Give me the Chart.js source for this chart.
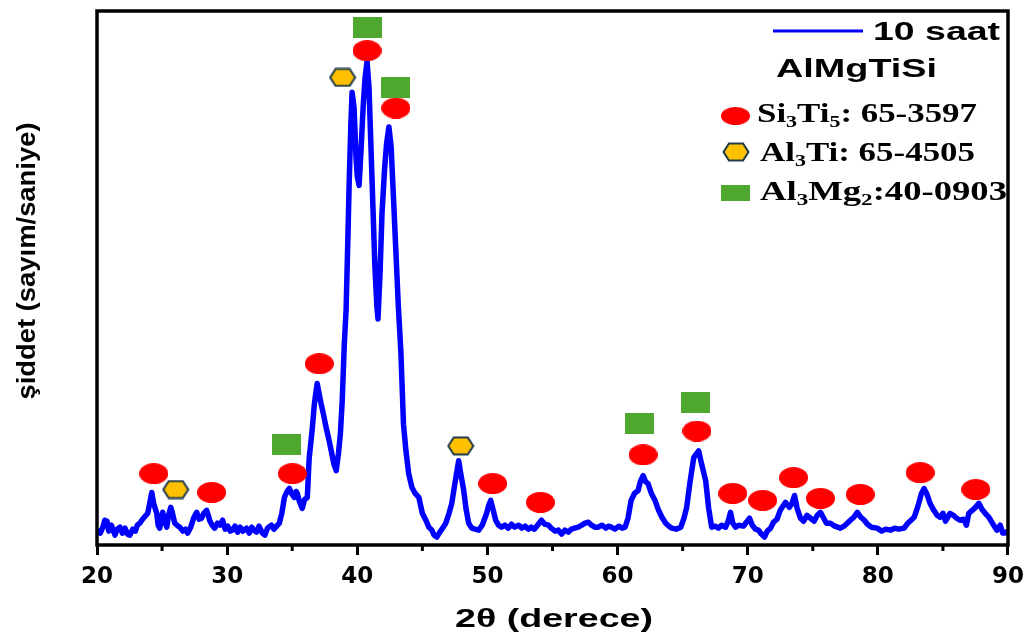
<!DOCTYPE html>
<html>
<head>
<meta charset="utf-8">
<script src="https://cdn.jsdelivr.net/npm/chart.js"></script>
<style>
body { margin: 0; background: #fff; }
</style>
</head>
<body>
<canvas id="xrd" width="1032" height="638"></canvas>
<script>
// 2theta (deg) and intensity (arbitrary counts)
const twoTheta = [
  20.00, 20.25, 20.45, 20.60, 20.77, 20.90, 21.10, 21.38, 21.55, 21.76, 21.95, 22.15, 22.35, 22.53, 22.75, 22.95,
  23.10, 23.29, 23.50, 23.70, 23.90, 24.05, 24.21, 24.35, 24.59, 24.70, 24.82, 24.95, 25.05, 25.20, 25.36, 25.50,
  25.67, 25.80, 25.97, 26.15, 26.36, 26.60, 26.80, 26.97, 27.20, 27.45, 27.66, 27.85, 28.04, 28.20, 28.42, 28.55,
  28.65, 28.85, 29.04, 29.25, 29.45, 29.65, 29.85, 30.05, 30.25, 30.41, 30.60, 30.80, 31.00, 31.20, 31.49, 31.70,
  31.90, 32.05, 32.25, 32.45, 32.71, 32.90, 33.10, 33.40, 33.60, 33.80, 34.01, 34.20, 34.40, 34.60, 34.78, 34.95,
  35.16, 35.30, 35.39, 35.55, 35.77, 35.95, 36.16, 36.30, 36.54, 36.70, 36.80, 36.92, 37.05, 37.23, 37.40, 37.60,
  37.84, 38.00, 38.20, 38.38, 38.55, 38.70, 38.84, 39.00, 39.14, 39.30, 39.37, 39.50, 39.60, 39.75, 39.90, 40.00,
  40.14, 40.30, 40.45, 40.60, 40.75, 40.90, 41.05, 41.20, 41.35, 41.50, 41.59, 41.75, 41.90, 42.10, 42.25, 42.43,
  42.60, 42.80, 42.97, 43.15, 43.35, 43.55, 43.74, 43.95, 44.20, 44.45, 44.73, 45.00, 45.27, 45.50, 45.73, 45.90,
  46.11, 46.30, 46.50, 46.80, 47.05, 47.26, 47.50, 47.79, 47.95, 48.18, 48.35, 48.56, 48.80, 49.05, 49.33, 49.60,
  49.94, 50.10, 50.25, 50.45, 50.63, 50.85, 51.09, 51.35, 51.60, 51.85, 52.10, 52.39, 52.65, 52.90, 53.15, 53.38,
  53.60, 53.85, 54.15, 54.40, 54.69, 54.90, 55.20, 55.45, 55.70, 55.95, 56.22, 56.45, 56.70, 56.98, 57.25, 57.50,
  57.75, 58.00, 58.25, 58.51, 58.80, 59.10, 59.30, 59.51, 59.80, 60.10, 60.35, 60.58, 60.80, 61.04, 61.30, 61.58,
  61.75, 61.96, 62.15, 62.34, 62.60, 62.88, 63.15, 63.41, 63.70, 63.95, 64.17, 64.50, 64.86, 65.10, 65.31, 65.55,
  65.85, 66.05, 66.23, 66.45, 66.77, 67.00, 67.23, 67.50, 67.75, 67.99, 68.30, 68.50, 68.68, 68.85, 69.07, 69.30,
  69.68, 69.90, 70.14, 70.35, 70.60, 70.83, 71.05, 71.29, 71.50, 71.75, 71.98, 72.25, 72.50, 72.70, 72.90, 73.20,
  73.40, 73.60, 73.80, 74.06, 74.30, 74.55, 74.83, 75.10, 75.35, 75.59, 75.80, 76.05, 76.36, 76.70, 77.12, 77.40,
  77.65, 77.89, 78.15, 78.42, 78.70, 78.96, 79.20, 79.50, 79.95, 80.30, 80.60, 80.95, 81.30, 81.60, 82.02, 82.30,
  82.55, 82.79, 83.10, 83.35, 83.55, 83.75, 84.01, 84.30, 84.55, 84.78, 85.00, 85.20, 85.54, 85.80, 86.05, 86.31,
  86.60, 86.80, 86.99, 87.25, 87.50, 87.76, 88.00, 88.25, 88.53, 88.80, 89.14, 89.40, 89.60, 89.75, 90.00
];
const counts = [
  13, 10, 16, 23, 22, 12, 18, 8, 14, 16, 10, 15, 9, 8, 14, 12,
  18, 20, 24, 27, 30, 40, 51, 40, 30, 18, 15, 24, 31, 22, 16, 28,
  36, 30, 20, 18, 16, 12, 14, 10, 16, 26, 31, 24, 25, 30, 33, 28,
  23, 18, 15, 20, 18, 23, 14, 17, 12, 13, 17, 11, 16, 12, 15, 10,
  16, 13, 11, 17, 10, 8, 15, 18, 14, 17, 20, 30, 46, 52, 55, 50,
  46, 52, 50, 42, 35, 44, 46, 85, 115, 140, 150, 161, 152, 140, 130, 117,
  103, 93, 80, 73, 90, 110, 143, 200, 235, 320, 360, 420, 455, 440, 390, 370,
  361, 400, 440, 470, 486, 460, 400, 340, 280, 240, 226, 273, 333, 378, 403, 420,
  400, 343, 293, 240, 193, 120, 93, 70, 56, 50, 46, 30, 23, 16, 13, 8,
  6, 10, 14, 20, 30, 40, 60, 83, 70, 53, 35, 20, 15, 14, 13, 18,
  30, 38, 43, 33, 23, 18, 16, 18, 15, 19, 16, 18, 15, 17, 14, 16,
  14, 18, 23, 19, 18, 15, 12, 13, 9, 13, 11, 14, 15, 16, 18, 20,
  21, 18, 16, 16, 18, 15, 17, 16, 14, 17, 15, 16, 25, 43, 50, 53,
  62, 68, 62, 60, 50, 43, 33, 26, 20, 17, 15, 14, 16, 25, 36, 60,
  86, 90, 93, 80, 63, 35, 16, 17, 15, 18, 16, 22, 31, 20, 16, 18,
  17, 21, 25, 18, 14, 13, 9, 6, 12, 15, 21, 24, 33, 37, 41, 36,
  40, 48, 35, 25, 22, 28, 25, 22, 28, 31, 26, 20, 20, 17, 15, 17,
  20, 23, 26, 31, 26, 23, 19, 16, 15, 12, 14, 13, 15, 14, 15, 20,
  23, 26, 38, 50, 55, 50, 40, 33, 28, 26, 30, 22, 30, 28, 25, 23,
  24, 18, 30, 33, 36, 40, 34, 30, 26, 20, 13, 18, 10, 10, 12
];

// phase markers (2theta, height)
const si3ti5X = [24.36, 28.81, 35.01, 37.08, 40.75, 42.97, 50.40, 54.07, 61.96, 66.10, 68.85, 71.15, 73.52, 75.59, 78.65, 83.25, 87.53];
const si3ti5Y = [70, 51, 70, 181, 497, 439, 60, 41, 89, 113, 50, 43, 66, 45, 49, 71, 54];
const al3tiX = [26.05, 38.87, 47.95];
const al3tiY = [54, 470, 98];
const al3mg2X = [34.55, 40.75, 42.97, 61.65, 66.02];
const al3mg2Y = [99, 520, 460, 121, 142];

const xTicks = [20, 30, 40, 50, 60, 70, 80, 90];

const toPoints = (xs, ys) => xs.map((x, i) => ({x: x, y: ys[i]}));

function ellipseImg(w, h) {
    const c = document.createElement('canvas');
    c.width = w; c.height = h;
    const g = c.getContext('2d');
    g.fillStyle = '#ff0000';
    g.beginPath();
    g.ellipse(w / 2, h / 2, w / 2, h / 2, 0, 0, Math.PI * 2);
    g.fill();
    return c;
}
function hexImg(w, h) {
    const c = document.createElement('canvas');
    c.width = w; c.height = h;
    const g = c.getContext('2d');
    const p = 1.5;
    g.beginPath();
    g.moveTo(p, h / 2);
    g.lineTo(w * 0.25, p);
    g.lineTo(w * 0.75, p);
    g.lineTo(w - p, h / 2);
    g.lineTo(w * 0.75, h - p);
    g.lineTo(w * 0.25, h - p);
    g.closePath();
    g.fillStyle = '#ffc000';
    g.fill();
    g.lineWidth = 2;
    g.strokeStyle = '#1f3a4a';
    g.stroke();
    return c;
}
function rectImg(w, h) {
    const c = document.createElement('canvas');
    c.width = w; c.height = h;
    const g = c.getContext('2d');
    g.fillStyle = '#4ea72e';
    g.fillRect(0, 0, w, h);
    return c;
}

const redMark = ellipseImg(29, 21);
const hexMark = hexImg(28, 20);
const greenMark = rectImg(29, 21);

// text with subscripts, stretched to a given width
function drawParts(ctx, parts, x, y, targetW, align, font, subFont) {
    ctx.save();
    let w = 0;
    parts.forEach(p => {
        ctx.font = p.sub ? subFont : font;
        w += ctx.measureText(p.t).width;
    });
    ctx.translate(x, y);
    ctx.scale(targetW / w, 1);
    let cx = align == 'center' ? -w / 2 : 0;
    ctx.textAlign = 'left';
    parts.forEach(p => {
        ctx.font = p.sub ? subFont : font;
        ctx.fillText(p.t, cx, p.sub ? 5 : 0);
        cx += ctx.measureText(p.t).width;
    });
    ctx.restore();
}

const sansBold = 'bold 25px "Liberation Sans", Arial, sans-serif';
const serifBold = 'bold 27px "Liberation Serif", "Times New Roman", serif';
const serifSub = 'bold 17px "Liberation Serif", "Times New Roman", serif';

const decor = {
    id: 'decor',
    afterDraw(chart) {
        const ctx = chart.ctx;
        const a = chart.chartArea;
        const xs = chart.scales.x;
        ctx.save();
        ctx.strokeStyle = '#000';
        ctx.lineWidth = 3.5;
        ctx.strokeRect(a.left, a.top, a.right - a.left, a.bottom - a.top);
        // minor ticks
        ctx.lineWidth = 3;
        for (let v = 25; v < 90; v += 10) {
            const px = xs.getPixelForValue(v);
            ctx.beginPath();
            ctx.moveTo(px, a.bottom);
            ctx.lineTo(px, a.bottom + 6);
            ctx.stroke();
        }
        ctx.fillStyle = '#000';
        ctx.textBaseline = 'alphabetic';
        // axis titles
        drawParts(ctx, [{t: '2θ (derece)'}], 554, 627, 198, 'center', sansBold, sansBold);
        ctx.save();
        ctx.translate(28, 261);
        ctx.rotate(-Math.PI / 2);
        ctx.textBaseline = 'middle';
        drawParts(ctx, [{t: 'şiddet (sayım/saniye)'}], 0, 0, 277, 'center', sansBold, sansBold);
        ctx.restore();
        // legend
        ctx.strokeStyle = '#0000ff';
        ctx.lineWidth = 3;
        ctx.beginPath();
        ctx.moveTo(773, 31);
        ctx.lineTo(863, 31);
        ctx.stroke();
        drawParts(ctx, [{t: '10 saat'}], 873, 40, 127, 'left', sansBold, sansBold);
        drawParts(ctx, [{t: 'AlMgTiSi'}], 776, 77, 161, 'left', sansBold, sansBold);
        ctx.drawImage(redMark, 721, 107, 29, 18);
        ctx.drawImage(hexMark, 722, 142, 28, 20);
        ctx.drawImage(greenMark, 721, 185, 29, 16);
        drawParts(ctx, [{t: 'Si'}, {t: '3', sub: true}, {t: 'Ti'}, {t: '5', sub: true}, {t: ': 65-3597'}],
            757, 122, 220, 'left', serifBold, serifSub);
        drawParts(ctx, [{t: 'Al'}, {t: '3', sub: true}, {t: 'Ti: 65-4505'}],
            760, 161, 215, 'left', serifBold, serifSub);
        drawParts(ctx, [{t: 'Al'}, {t: '3', sub: true}, {t: 'Mg'}, {t: '2', sub: true}, {t: ':40-0903'}],
            760, 200, 247, 'left', serifBold, serifSub);
        ctx.restore();
    }
};

new Chart(document.getElementById('xrd'), {
    type: 'scatter',
    data: {
        datasets: [{
            label: '10 saat',
            data: toPoints(twoTheta, counts),
            showLine: true,
            borderColor: '#0000ff',
            borderWidth: 5.5,
            borderJoinStyle: 'round',
            pointRadius: 0,
            tension: 0,
            order: 2
        }, {
            label: 'Si3Ti5',
            data: toPoints(si3ti5X, si3ti5Y),
            pointStyle: redMark,
            pointRadius: 10,
            order: 1
        }, {
            label: 'Al3Ti',
            data: toPoints(al3tiX, al3tiY),
            pointStyle: hexMark,
            pointRadius: 10,
            order: 1
        }, {
            label: 'Al3Mg2',
            data: toPoints(al3mg2X, al3mg2Y),
            pointStyle: greenMark,
            pointRadius: 10,
            order: 1
        }]
    },
    options: {
        responsive: false,
        animation: false,
        events: [],
        layout: { padding: { top: 6, right: 21, left: 0, bottom: 0 } },
        plugins: {
            legend: { display: false },
            tooltip: { enabled: false }
        },
        scales: {
            x: {
                type: 'linear',
                min: 20,
                max: 90,
                afterBuildTicks: s => { s.ticks = xTicks.map(v => ({value: v})); },
                ticks: {
                    color: '#000',
                    padding: 8,
                    maxRotation: 0,
                    autoSkip: false,
                    font: { family: 'DejaVu Sans', weight: 'bold', size: 23 }
                },
                grid: { drawOnChartArea: false, drawTicks: true, tickLength: 10, tickWidth: 3, tickColor: '#000' },
                border: { display: false },
                afterFit: s => { s.height = 93; }
            },
            y: {
                min: -2,
                max: 537,
                ticks: { display: false },
                grid: { display: false },
                border: { display: false },
                afterFit: s => { s.width = 97; }
            }
        }
    },
    plugins: [decor]
});
</script>
</body>
</html>
